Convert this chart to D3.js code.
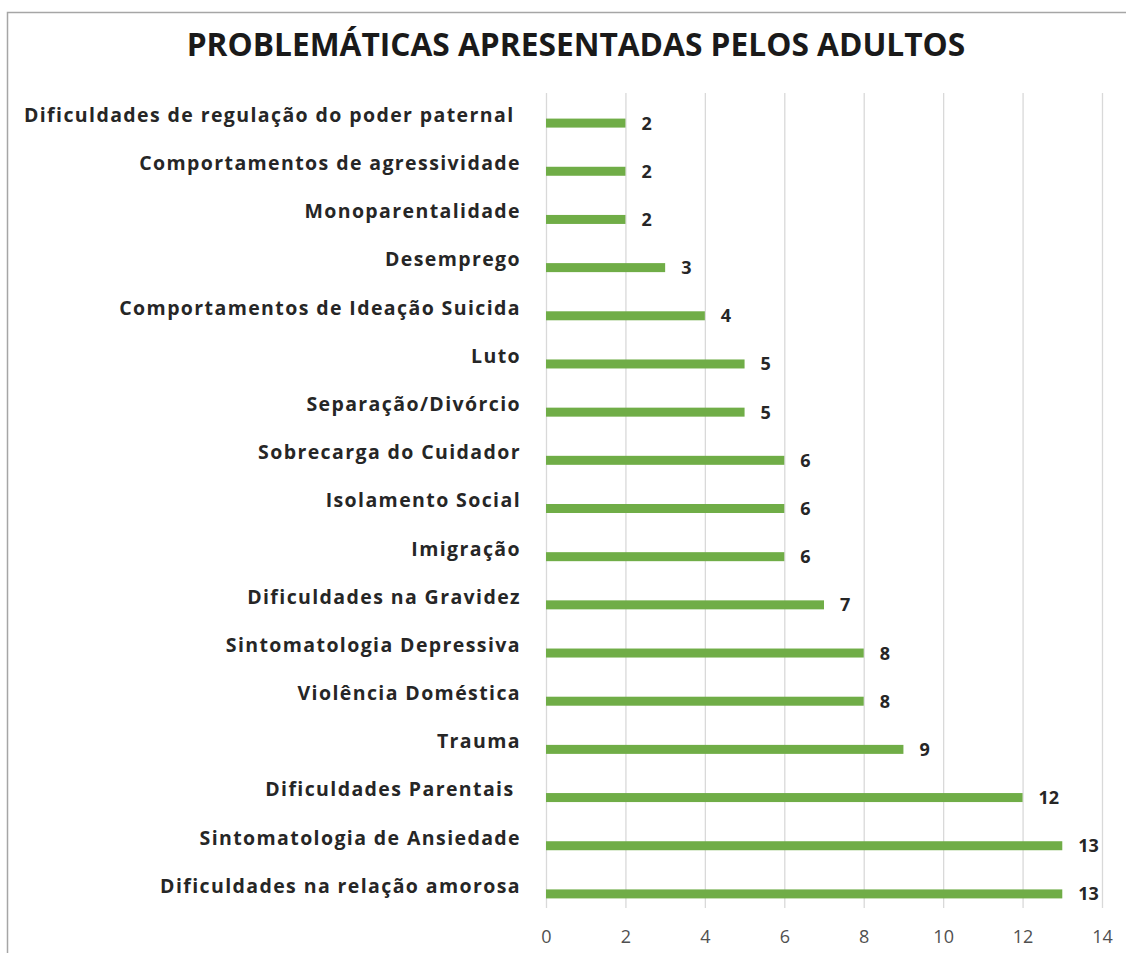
<!DOCTYPE html>
<html>
<head>
<meta charset="utf-8">
<script src="https://cdn.jsdelivr.net/npm/d3@7"></script>
<style>
  body { margin: 0; background: #fff; }
  text { font-family: "Open Sans", Lato, sans-serif; }
</style>
</head>
<body>
<div id="chart"></div>
<script>
// chart data, top to bottom
const categories = [
  'Dificuldades de regulação do poder paternal ',
  'Comportamentos de agressividade',
  'Monoparentalidade',
  'Desemprego',
  'Comportamentos de Ideação Suicida',
  'Luto',
  'Separação/Divórcio',
  'Sobrecarga do Cuidador',
  'Isolamento Social',
  'Imigração',
  'Dificuldades na Gravidez',
  'Sintomatologia Depressiva',
  'Violência Doméstica',
  'Trauma',
  'Dificuldades Parentais ',
  'Sintomatologia de Ansiedade',
  'Dificuldades na relação amorosa'
];
const values = [2, 2, 2, 3, 4, 5, 5, 6, 6, 6, 7, 8, 8, 9, 12, 13, 13];
const xTicks = [0, 2, 4, 6, 8, 10, 12, 14];
const title = 'PROBLEMÁTICAS APRESENTADAS PELOS ADULTOS';

const width = 1126, height = 953;
const green = '#70ad47';

const svg = d3.select('#chart')
  .append('svg')
  .attr('width', width)
  .attr('height', height);

// outer chart border (right/bottom run off the picture)
svg.append('rect')
  .attr('x', 7.5).attr('y', 12.5)
  .attr('width', 1140).attr('height', 960)
  .attr('fill', 'none')
  .attr('stroke', '#a6a6a6')
  .attr('stroke-width', 1.5);

const xScale = d3.scaleLinear()
  .domain([0, 14])
  .range([546, 1102]);

const yScale = d3.scaleBand()
  .domain(categories)
  .range([99, 918]);

// gridlines + tick labels
const xAxis = d3.axisBottom(xScale)
  .tickValues(xTicks)
  .tickSize(-815)
  .tickPadding(22);

const gx = svg.append('g')
  .attr('transform', 'translate(0, 908)')
  .call(xAxis);
gx.select('.domain').remove();
gx.selectAll('line').attr('stroke', '#d9d9d9').attr('stroke-width', 1.3);
gx.selectAll('text')
  .attr('font-size', '18px')
  .attr('fill', '#505050')
  .attr('font-family', '"Open Sans", sans-serif');

// bars
svg.selectAll('rect.bar')
  .data(values)
  .enter()
  .append('rect')
  .attr('class', 'bar')
  .attr('x', xScale(0))
  .attr('y', (d, i) => yScale(categories[i]) + yScale.bandwidth() / 2 - 4.5)
  .attr('width', (d) => xScale(d) - xScale(0))
  .attr('height', 9)
  .attr('fill', green);

// value labels
svg.selectAll('text.val')
  .data(values)
  .enter()
  .append('text')
  .attr('class', 'val')
  .attr('x', (d) => xScale(d) + 16)
  .attr('y', (d, i) => yScale(categories[i]) + yScale.bandwidth() / 2)
  .attr('dy', '0.36em')
  .attr('font-size', '18px')
  .attr('font-weight', 'bold')
  .attr('fill', '#262626')
  .text((d) => d);

// category labels
svg.selectAll('text.cat')
  .data(categories)
  .enter()
  .append('text')
  .attr('class', 'cat')
  .attr('x', 521)
  .attr('y', (d) => yScale(d) + yScale.bandwidth() / 2 - 8)
  .attr('dy', '0.35em')
  .attr('text-anchor', 'end')
  .attr('font-size', '19.5px')
  .attr('font-weight', 'bold')
  .attr('letter-spacing', '1.4px')
  .attr('fill', '#262626')
  .style('white-space', 'pre')
  .text((d) => d);

// title
svg.append('text')
  .attr('x', 576)
  .attr('y', 45)
  .attr('dy', '0.35em')
  .attr('text-anchor', 'middle')
  .attr('font-size', '31.7px')
  .attr('font-weight', 'bold')
  .attr('font-family', 'Lato, sans-serif')
  .attr('fill', '#1a1a1a')
  .text(title);
</script>
</body>
</html>
